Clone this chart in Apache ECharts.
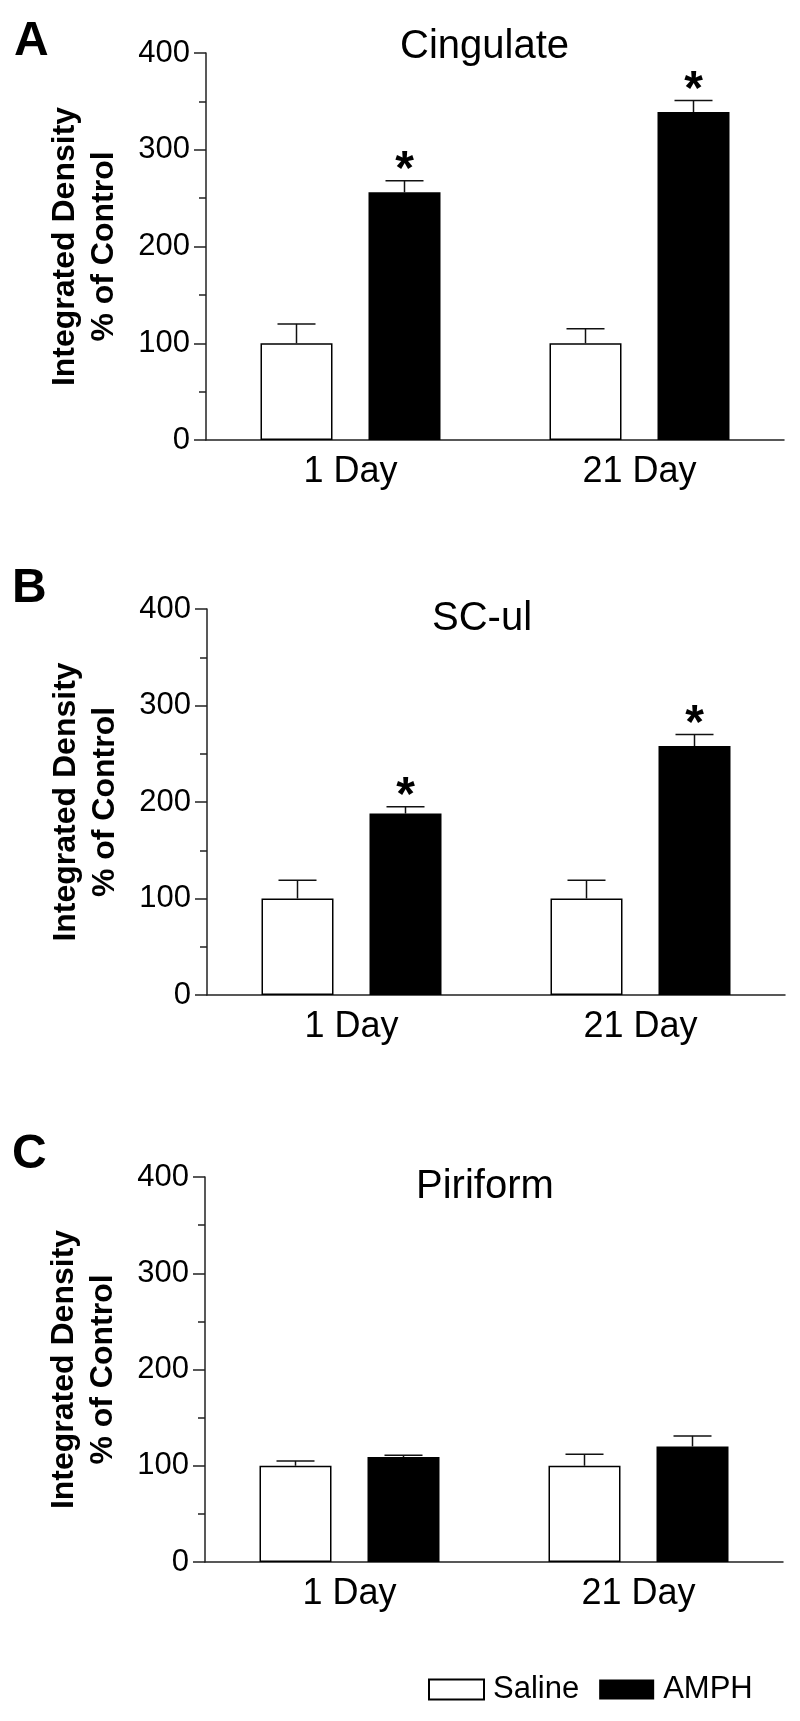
<!DOCTYPE html>
<html>
<head>
<meta charset="utf-8">
<script src="https://cdn.jsdelivr.net/npm/echarts@6/dist/echarts.min.js"></script>
<style>
  html, body { margin: 0; padding: 0; background: #fff; }
  #chart { width: 800px; height: 1721px; }
</style>
</head>
<body>
<div id="chart"></div>
<script>
const categories = ["1 Day", "21 Day"];
const yTicks = [0, 100, 200, 300, 400];
const panelLetters = ["A", "B", "C"];
const panelTitles = ["Cingulate", "SC-ul", "Piriform"];

// mean and SEM, % of control
const cingulateSaline = [100, 100];
const cingulateSalineSem = [20, 15];
const cingulateAmph = [256, 339];
const cingulateAmphSem = [12, 12];
const cingulateSig = [true, true];

const sculSaline = [100, 100];
const sculSalineSem = [19, 19];
const sculAmph = [188, 258];
const sculAmphSem = [7, 12];
const sculSig = [true, true];

const piriformSaline = [100, 100];
const piriformSalineSem = [5, 12];
const piriformAmph = [109, 120];
const piriformAmphSem = [2, 11];
const piriformSig = [false, false];

const FONT = '"Liberation Sans", Arial, Helvetica, sans-serif';
const BAR_W = 72;
const BAR_GAP = 36;
const CAP = 38;

const panels = [
  { saline: cingulateSaline, salineSem: cingulateSalineSem, amph: cingulateAmph, amphSem: cingulateAmphSem, sig: cingulateSig },
  { saline: sculSaline, salineSem: sculSalineSem, amph: sculAmph, amphSem: sculAmphSem, sig: sculSig },
  { saline: piriformSaline, salineSem: piriformSalineSem, amph: piriformAmph, amphSem: piriformAmphSem, sig: piriformSig },
];

// pixel layout of the three plot areas
const grids = [
  { left: 206, top: 53, width: 578, height: 387 },
  { left: 207, top: 609, width: 578, height: 386 },
  { left: 205, top: 1177, width: 578, height: 385 },
];
const titlePos = [
  { left: 400, top: 27 },
  { left: 432, top: 599 },
  { left: 416, top: 1167 },
];
const letterPos = [
  { left: 14, top: 18 },
  { left: 12, top: 565 },
  { left: 12, top: 1131 },
];

const errorBar = (side) => (params, api) => {
  const base = api.coord([api.value(0), api.value(1)]);
  const top = api.coord([api.value(0), api.value(1) + api.value(2)]);
  const x = base[0] + (side * (BAR_W + BAR_GAP)) / 2;
  const lineStyle = { stroke: "#111", lineWidth: 1.5 };
  const children = [
    { type: "line", shape: { x1: x, y1: base[1], x2: x, y2: top[1] }, style: lineStyle },
    { type: "line", shape: { x1: x - CAP / 2, y1: top[1], x2: x + CAP / 2, y2: top[1] }, style: lineStyle },
  ];
  if (api.value(3)) {
    children.push({
      type: "text",
      x: x,
      y: top[1] - 10,
      style: { text: "*", font: "bold 48px " + FONT, fill: "#000", align: "center", verticalAlign: "middle" },
    });
  }
  return { type: "group", children: children };
};

const axisLine = { show: true, lineStyle: { color: "#222", width: 1.5 } };

let series = [];
panels.forEach((p, i) => {
  series.push({
    name: "Saline",
    type: "bar",
    xAxisIndex: i,
    yAxisIndex: i,
    barWidth: BAR_W,
    barGap: "50%",
    data: p.saline,
    itemStyle: { color: "#fff", borderColor: "#000", borderWidth: 1.5 },
    silent: true,
  });
  series.push({
    name: "AMPH",
    type: "bar",
    xAxisIndex: i,
    yAxisIndex: i,
    barWidth: BAR_W,
    barGap: "50%",
    data: p.amph,
    itemStyle: { color: "#000" },
    silent: true,
  });
  series.push({
    type: "custom",
    xAxisIndex: i,
    yAxisIndex: i,
    renderItem: errorBar(-1),
    data: categories.map((c, j) => [j, p.saline[j], p.salineSem[j], 0]),
    z: 5,
    silent: true,
  });
  series.push({
    type: "custom",
    xAxisIndex: i,
    yAxisIndex: i,
    renderItem: errorBar(1),
    data: categories.map((c, j) => [j, p.amph[j], p.amphSem[j], p.sig[j] ? 1 : 0]),
    z: 5,
    silent: true,
  });
});

let option = {
  animation: false,
  backgroundColor: "#fff",
  textStyle: { fontFamily: FONT },
  title: panelTitles
    .map((t, i) => ({
      text: t,
      left: titlePos[i].left,
      top: titlePos[i].top,
      padding: 0,
      textStyle: { fontSize: 40, fontWeight: "normal", color: "#000", fontFamily: FONT },
    }))
    .concat(
      panelLetters.map((t, i) => ({
        text: t,
        left: letterPos[i].left,
        top: letterPos[i].top,
        padding: 0,
        textStyle: { fontSize: 48, fontWeight: "bold", color: "#000", fontFamily: FONT },
      }))
    ),
  legend: {
    data: ["Saline", "AMPH"],
    left: 428,
    top: 1674,
    padding: 0,
    icon: "rect",
    itemWidth: 55,
    itemHeight: 20,
    itemGap: 20,
    textStyle: { fontSize: 31, color: "#000", fontFamily: FONT, padding: [0, 0, 0, 4] },
  },
  grid: grids,
  xAxis: grids.map((g, i) => ({
    type: "category",
    gridIndex: i,
    data: categories,
    axisLine: axisLine,
    axisTick: { show: false },
    axisLabel: { fontSize: 36, color: "#000", margin: 14, fontFamily: FONT },
  })),
  yAxis: grids.map((g, i) => ({
    type: "value",
    gridIndex: i,
    min: yTicks[0],
    max: yTicks[yTicks.length - 1],
    interval: yTicks[1] - yTicks[0],
    name: "Integrated Density\n% of Control",
    nameLocation: "middle",
    nameGap: 82,
    nameTextStyle: { fontSize: 32, fontWeight: "bold", color: "#000", lineHeight: 39, fontFamily: FONT },
    axisLine: axisLine,
    axisTick: { show: true, length: 12, lineStyle: { color: "#222", width: 1.5 } },
    minorTick: { show: true, splitNumber: 2, length: 7, lineStyle: { color: "#222", width: 1.5 } },
    splitLine: { show: false },
    axisLabel: { fontSize: 31, color: "#000", margin: 16, fontFamily: FONT },
  })),
  series: series,
};

const chart = echarts.init(document.getElementById("chart"));
chart.setOption(option);
</script>
</body>
</html>
